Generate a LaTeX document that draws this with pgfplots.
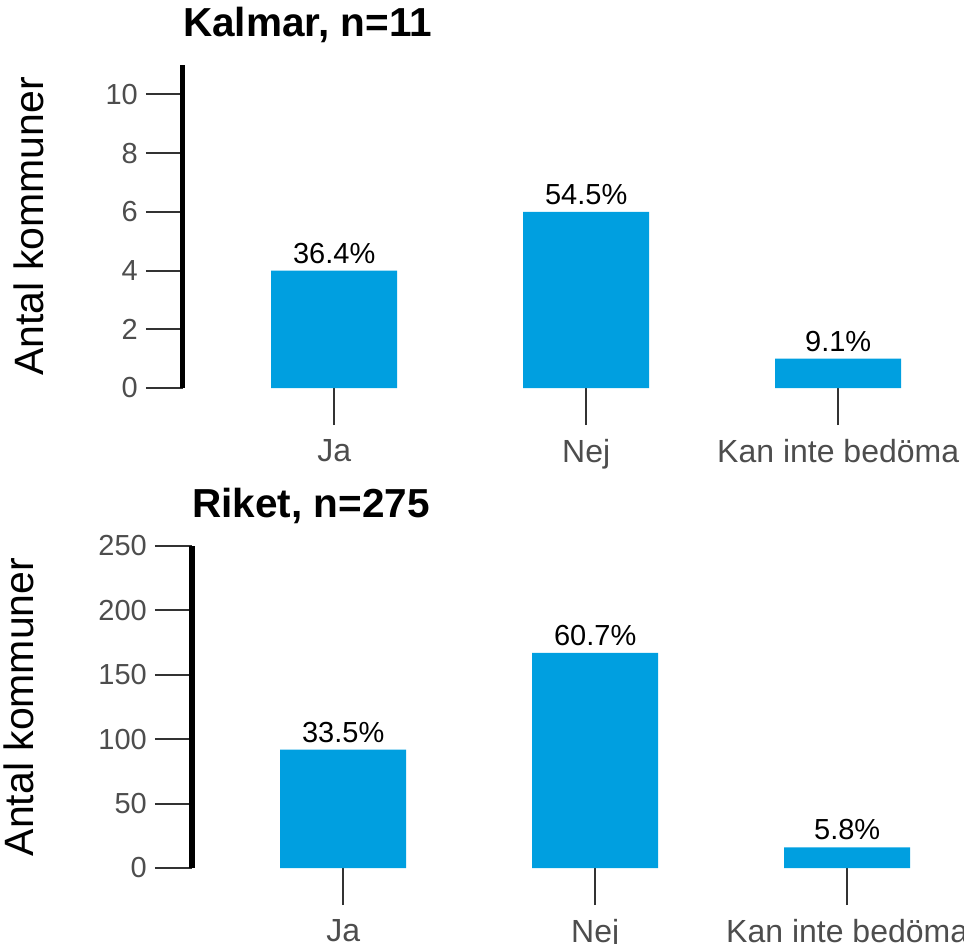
\documentclass[border=0pt]{standalone}
\usepackage{pgfplots}
\pgfplotsset{compat=1.18}
\usepackage{fontspec}
\setmainfont{Liberation Sans}

\definecolor{barblue}{HTML}{009FE0}
\definecolor{tickgray}{HTML}{333333}
\definecolor{labgray}{HTML}{4D4D4D}

\pgfplotsset{
  panel/.style={
    scale only axis,
    width=781.2pt, height=323pt,
    anchor=south west,
    xmin=0.4, xmax=3.5,
    axis x line*=bottom, axis y line*=left,
    axis line style={-},
    x axis line style={draw=none},
    y axis line style={line width=5pt, black, line cap=butt},
    xtick={1,2,3},
    xticklabels={Ja,Nej,Kan inte bedöma},
    tick align=outside,
    major tick length=37pt,
    tick style={line width=2pt, tickgray},
    xticklabel style={font=\fontsize{32}{32}\selectfont, text=labgray, anchor=north, inner sep=0pt, yshift=-14pt},
    yticklabel style={font=\fontsize{29}{29}\selectfont, text=labgray, anchor=east, inner sep=0pt, xshift=-8pt},
    /pgf/number format/assume math mode=true,
    ylabel={Antal kommuner},
    ylabel style={font=\fontsize{41}{41}\selectfont, anchor=base, rotate=0},
    title style={font=\bfseries\fontsize{40.5}{40.5}\selectfont, at={(axis description cs:0,1)}, anchor=base west, yshift=23pt, inner sep=0pt},
    bar width=0.5,
    nodes near coords,
    point meta=explicit symbolic,
    every node near coord/.append style={font=\fontsize{29}{29}\selectfont, black, anchor=south, inner sep=0pt, yshift=7pt},
  }
}

\begin{document}
\begin{tikzpicture}

\begin{axis}[panel,
  at={(183pt,-388pt)},
  ymin=0, ymax=11,
  ytick={0,2,4,6,8,10},
  title={Kalmar, n=11},
  ylabel style={at={(axis description cs:-0.1792,0.5)}},
]
\addplot[ybar, fill=barblue, draw=none] coordinates {
  (1,4) [36.4\%]
  (2,6) [54.5\%]
  (3,1) [9.1\%]
};
\end{axis}

\begin{axis}[panel,
  at={(192pt,-868pt)},
  height=322pt,
  ymin=0, ymax=250,
  ytick={0,50,100,150,200,250},
  title={Riket, n=275},
  ylabel style={at={(axis description cs:-0.2035,0.5)}},
]
\addplot[ybar, fill=barblue, draw=none] coordinates {
  (1,92) [33.5\%]
  (2,167) [60.7\%]
  (3,16) [5.8\%]
};
\end{axis}

\pgfresetboundingbox
\path (0pt,0pt) rectangle (964pt,-943pt);
\end{tikzpicture}
\end{document}
